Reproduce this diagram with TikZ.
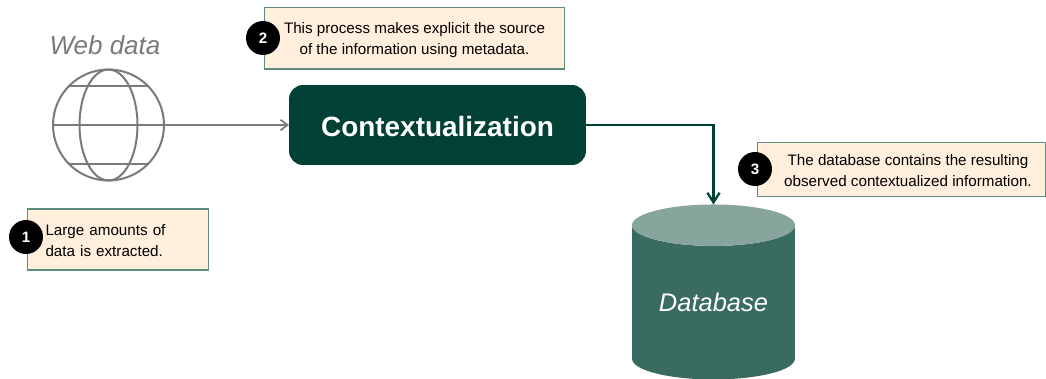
\documentclass[tikz,border=0pt]{standalone}
\usepackage{fontspec}
\setmainfont{Liberation Sans}
\usetikzlibrary{arrows.meta,shapes.geometric}
\definecolor{notefill}{HTML}{FFEFDC}
\definecolor{noteline}{HTML}{5F8B7F}
\definecolor{darkgreen}{HTML}{004035}
\definecolor{dbbody}{HTML}{3A6B60}
\definecolor{dbtop}{HTML}{88A59D}
\definecolor{webgray}{HTML}{7A7A7A}
\newcommand{\notestrut}{\rule{0pt}{8pt}}
\begin{document}
\begin{tikzpicture}[x=0.02cm,y=0.02cm]
    \tikzstyle{every node}+=[outer sep=0pt]
    \tikzstyle{note}=[draw=noteline,fill=notefill,line width=0.6pt,inner ysep=0pt,font=\fontsize{8.65}{12}\selectfont]
    \tikzstyle{badge}=[circle,fill=black,text=white,minimum size=0.68cm,inner sep=0pt,font=\fontsize{8.6}{10}\bfseries\selectfont]
    \useasboundingbox (0,0) rectangle (1046,-379);
    \node [text=webgray,font=\fontsize{14.8}{16}\itshape\selectfont] (webdata) at (105,-45) {Web data};
    \node [circle,draw=webgray,line width=1.15pt,minimum size=2.22cm,inner sep=0pt] (globe) at (108.5,-125) {};
    \draw [webgray,line width=1.15pt] (globe.center) ellipse (29 and 55.5);
    \draw [webgray,line width=1.15pt] (globe.west) -- (globe.east);
    \draw [webgray,line width=1.15pt] (globe.135) -- (globe.45);
    \draw [webgray,line width=1.15pt] (globe.225) -- (globe.315);
    \node [fill=darkgreen,rounded corners=0.28cm,minimum width=5.94cm,minimum height=1.6cm,text=white,text height=13.4pt,text depth=0pt,font=\fontsize{15.9}{18}\bfseries\selectfont] (context) at (437.5,-125) {Contextualization};
    \node [cylinder,shape border rotate=90,aspect=0.38,cylinder uses custom fill,cylinder body fill=dbbody,cylinder end fill=dbtop,minimum width=3.26cm,minimum height=3.5cm,inner sep=0pt,text=white,font=\fontsize{14.5}{16}\itshape\selectfont] (database) at (713.5,-302.5) {Database};
    \node [note,minimum width=6cm,minimum height=1.23cm,align=center] (note2) at (414.5,-38.25) {\notestrut This process makes explicit the source\\of the information using metadata.};
    \node [note,minimum width=3.62cm,minimum height=1.22cm,text width=2.9cm,inner xsep=0.36cm,align=left] (note1) at (118,-239.5) {\notestrut Large amounts of\\data is extracted.};
    \node [note,minimum width=5.78cm,minimum height=1.07cm,align=center] (note3) at (901.5,-169.5) {\notestrut\hspace*{0.26cm}The database contains the resulting\\\hspace*{0.26cm}observed contextualized information.};
    \node [badge] (badge1) at (26,-237) {1};
    \node [badge] (badge2) at (263,-38) {2};
    \node [badge] (badge3) at (755,-169) {3};
    \draw [webgray,line width=1pt,-{Straight Barb[length=4pt,width=6pt]}] (globe.east) -- (context.west);
    \draw [darkgreen,line width=1.3pt,-{Straight Barb[length=5.5pt,width=7pt]}] (context.east) -| (database.top);
\end{tikzpicture}
\end{document}
